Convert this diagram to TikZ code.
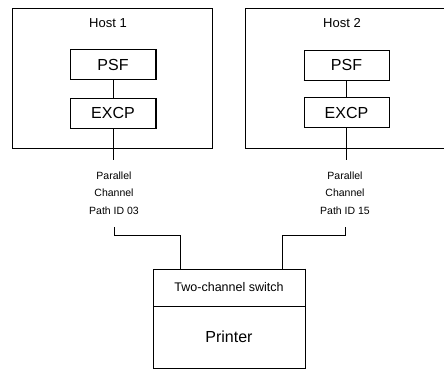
\documentclass[tikz,border=0pt]{standalone}
\usepackage{fontspec}
\setmainfont{Liberation Sans}
\usepackage{tikz}

\begin{document}
\begin{tikzpicture}[x=1pt, y=-1pt, line width=0.8pt,
	hostbox/.style={draw=black, rectangle, inner sep=0pt},
	progbox/.style={draw=black, rectangle, inner sep=0pt, minimum width=85pt, minimum height=30pt, font=\fontsize{16}{18}\selectfont},
	chanlabel/.style={align=center, inner sep=0pt, font=\fontsize{10.5}{17.5}\selectfont},
	boxshade/.style={line width=1.8pt}]
	\useasboundingbox (0,0) rectangle (444,370);
	% hosts
	\node[hostbox, minimum width=200pt, minimum height=140pt] (host1) at (112, 78) {};
	\node[hostbox, minimum width=210pt, minimum height=140pt] (host2) at (350, 78) {};
	\node[font=\fontsize{13}{15}\selectfont] (hostlabel1) at (108, 23) {Host 1};
	\node[font=\fontsize{13}{15}\selectfont] (hostlabel2) at (342, 23) {Host 2};
	% programs
	\node[progbox] (psf1) at (113, 64.5) {PSF};
	\node[progbox] (excp1) at (113, 113) {EXCP};
	\node[progbox] (psf2) at (346.5, 65) {PSF};
	\node[progbox] (excp2) at (346.5, 112.5) {EXCP};
	\draw[boxshade] (psf1.north east) -- (psf1.south east);
	\draw[boxshade] (excp1.south west) -- (excp1.south east) -- (excp1.north east);
	\draw[boxshade] (psf2.south west) -- (psf2.south east) -- (psf2.north east);
	\draw[boxshade] (excp2.north east) -- (excp2.south east);
	% channels
	\coordinate (out1) at (113, 160);
	\coordinate (out2) at (346.5, 160);
	\draw (psf1.south) -- (excp1.north);
	\draw (excp1.south) -- (out1);
	\draw (psf2.south) -- (excp2.north);
	\draw (excp2.south) -- (out2);
	\node[chanlabel] (chan1) at (114, 193) {Parallel\\Channel\\Path ID 03};
	\node[chanlabel] (chan2) at (345, 193) {Parallel\\Channel\\Path ID 15};
	% printer
	\node[hostbox, minimum width=152pt, minimum height=37pt, font=\fontsize{12.5}{14}\selectfont] (switch) at (229, 287.5) {Two-channel switch};
	\node[hostbox, minimum width=152pt, minimum height=62.5pt, font=\fontsize{16}{18}\selectfont] (printer) at (229, 337.25) {};
	\node[font=\fontsize{16}{18}\selectfont] (printerlabel) at (229, 337) {Printer};
	\draw[boxshade] (switch.north east) -- (printer.south east);
	\coordinate (tail1) at (114, 227);
	\coordinate (tail2) at (345, 227);
	\draw (tail1) -- ++(0, 8) -| ([xshift=-49pt]switch.north);
	\draw (tail2) -- ++(0, 8) -| ([xshift=53pt]switch.north);
\end{tikzpicture}
\end{document}
